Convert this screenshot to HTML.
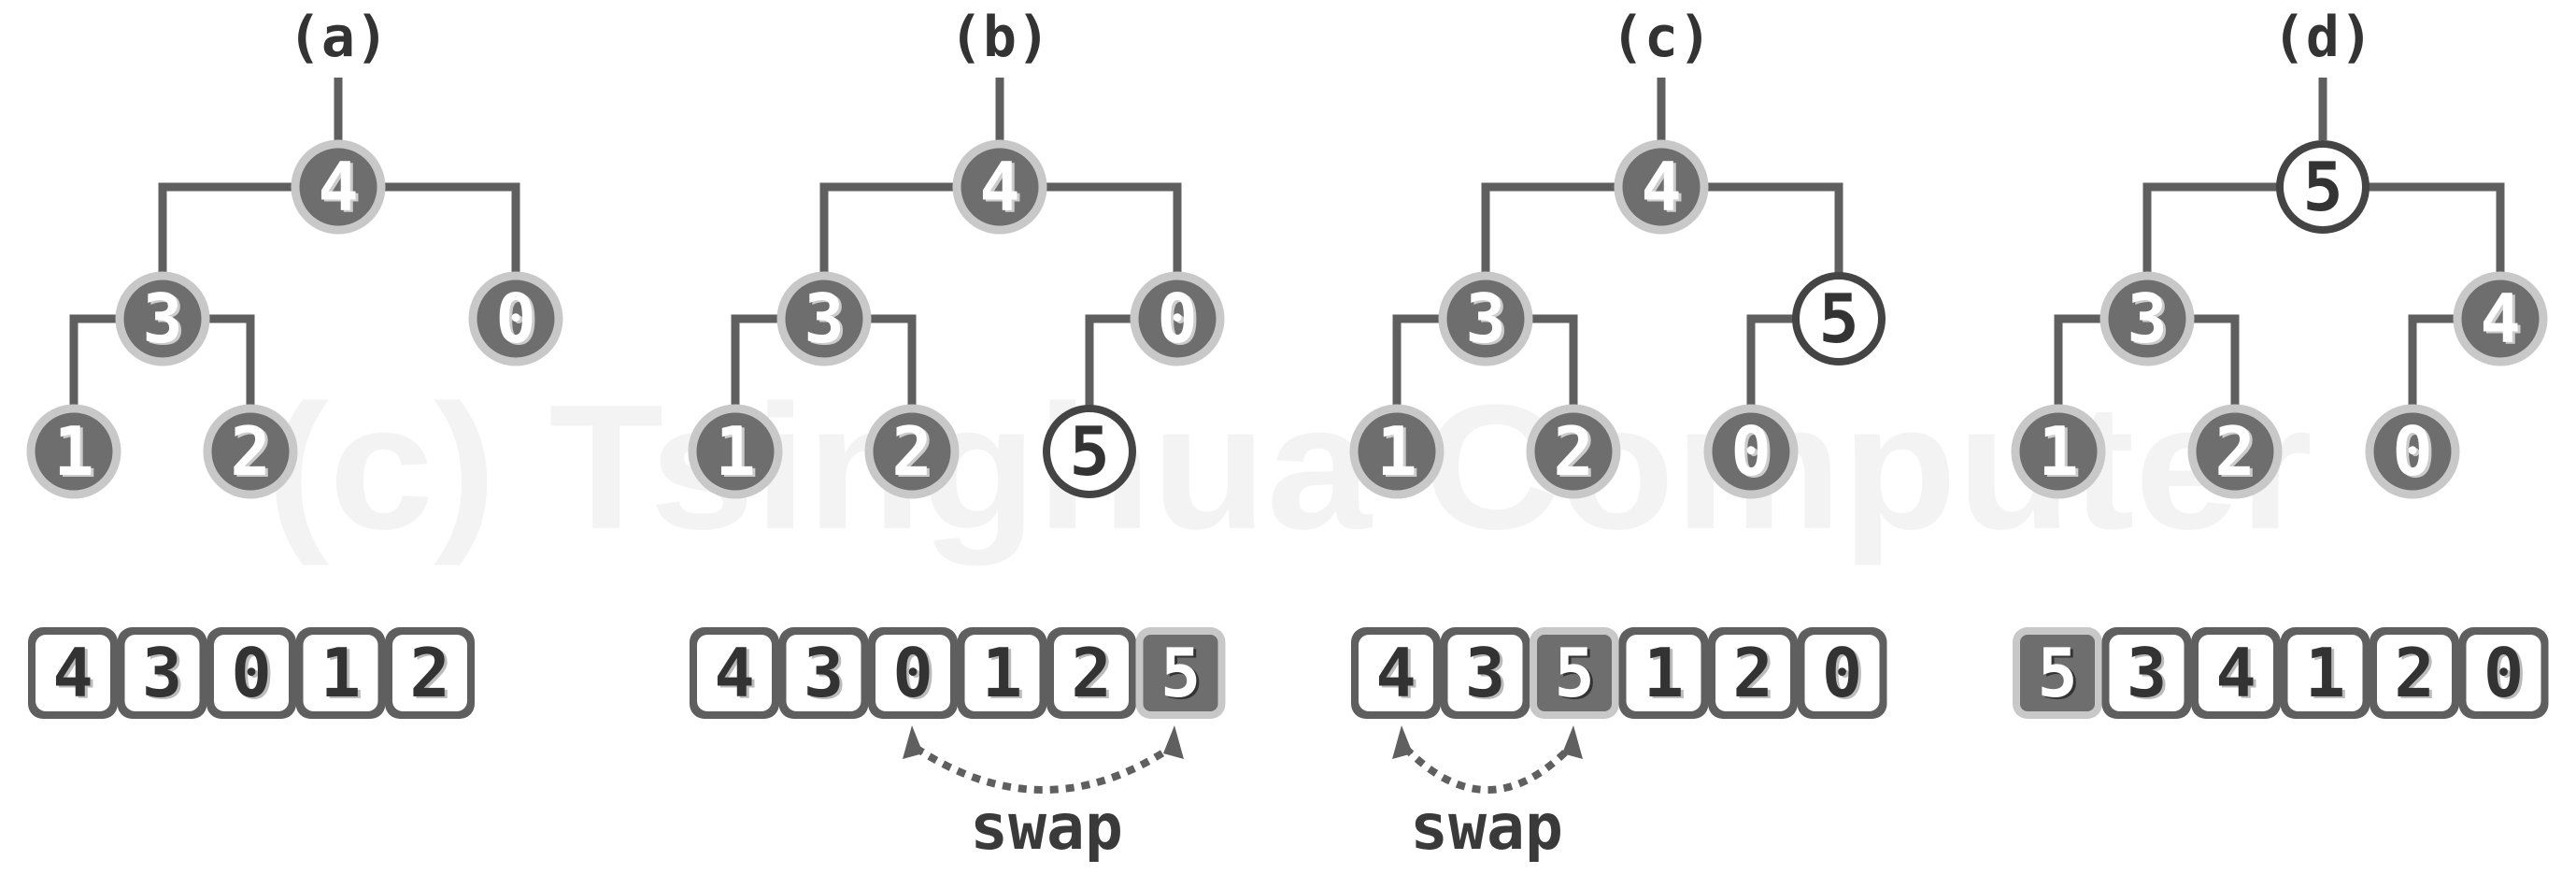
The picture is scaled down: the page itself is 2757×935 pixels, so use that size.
<!DOCTYPE html>
<html><head><meta charset="utf-8"><style>
html,body{margin:0;padding:0;background:#fff}
svg{display:block}
.lbl{font-family:"DejaVu Sans Mono","Liberation Mono",monospace;font-weight:bold;font-size:60px;fill:#333;text-anchor:middle}
.nd{font-family:"DejaVu Sans Mono","Liberation Mono",monospace;font-weight:bold;font-size:72px;text-anchor:middle}
.ar{font-family:"DejaVu Sans Mono","Liberation Mono",monospace;font-weight:bold;font-size:72px;text-anchor:middle}
.sw{font-family:"DejaVu Sans Mono","Liberation Mono",monospace;font-weight:bold;font-size:68px;fill:#3a3a3a;text-anchor:middle}
.ln{stroke:#5f5f5f;stroke-width:9;fill:none}
.dn{fill:#6e6e6e;stroke:#c8c8c8;stroke-width:9}
.wn{fill:#fff;stroke:#444;stroke-width:8}
.co{fill:#5f5f5f}
.ci{fill:#fff}
.ho{fill:#c8c8c8}
.hi{fill:#6e6e6e}
.dash{stroke:#5f5f5f;stroke-width:8;fill:none;stroke-dasharray:9 8}
</style></head><body>
<svg width="2757" height="935" viewBox="0 0 2757 935" xmlns="http://www.w3.org/2000/svg">
<text x="1380" y="565" font-family="Liberation Sans,sans-serif" font-weight="bold" font-size="190" fill="#f3f3f3" text-anchor="middle" textLength="2190" lengthAdjust="spacingAndGlyphs">(c) Tsinghua Computer</text>

<!-- Panel a -->
<g transform="translate(362,0)">
<text class="lbl" x="0" y="60">(a)</text>
<path class="ln" d="M0 83V150"/>
<path class="ln" d="M-188 341V200H190V341"/>
<path class="ln" d="M-283 483V341H-94V483"/>
<circle class="dn" cx="0" cy="200" r="46"/><text class="nd" x="3" y="227" fill="#ccc">4</text><text class="nd" x="0" y="225" fill="#fff">4</text>
<circle class="dn" cx="-188" cy="341" r="46"/><text class="nd" x="-185" y="368" fill="#ccc">3</text><text class="nd" x="-188" y="366" fill="#fff">3</text>
<circle class="dn" cx="190" cy="341" r="46"/><text class="nd" x="193" y="368" fill="#ccc">0</text><text class="nd" x="190" y="366" fill="#fff">0</text>
<circle class="dn" cx="-283" cy="483" r="46"/><text class="nd" x="-280" y="510" fill="#ccc">1</text><text class="nd" x="-283" y="508" fill="#fff">1</text>
<circle class="dn" cx="-94" cy="483" r="46"/><text class="nd" x="-91" y="510" fill="#ccc">2</text><text class="nd" x="-94" y="508" fill="#fff">2</text>
<g transform="translate(-332,671)">
<rect class="co" x="0" y="0" width="96" height="98" rx="16"/><rect class="ci" x="8" y="8" width="80" height="82" rx="11"/><text class="ar" x="51" y="76" fill="#bbb">4</text><text class="ar" x="48" y="74" fill="#333">4</text>
<rect class="co" x="95.5" y="0" width="96" height="98" rx="16"/><rect class="ci" x="103.5" y="8" width="80" height="82" rx="11"/><text class="ar" x="146.5" y="76" fill="#bbb">3</text><text class="ar" x="143.5" y="74" fill="#333">3</text>
<rect class="co" x="191" y="0" width="96" height="98" rx="16"/><rect class="ci" x="199" y="8" width="80" height="82" rx="11"/><text class="ar" x="242" y="76" fill="#bbb">0</text><text class="ar" x="239" y="74" fill="#333">0</text>
<rect class="co" x="286.5" y="0" width="96" height="98" rx="16"/><rect class="ci" x="294.5" y="8" width="80" height="82" rx="11"/><text class="ar" x="337.5" y="76" fill="#bbb">1</text><text class="ar" x="334.5" y="74" fill="#333">1</text>
<rect class="co" x="382" y="0" width="96" height="98" rx="16"/><rect class="ci" x="390" y="8" width="80" height="82" rx="11"/><text class="ar" x="433" y="76" fill="#bbb">2</text><text class="ar" x="430" y="74" fill="#333">2</text>
</g>
</g>

<!-- Panel b -->
<g transform="translate(1070,0)">
<text class="lbl" x="0" y="60">(b)</text>
<path class="ln" d="M0 83V150"/>
<path class="ln" d="M-188 341V200H190V341"/>
<path class="ln" d="M-283 483V341H-94V483"/>
<path class="ln" d="M96 483V341H190"/>
<circle class="dn" cx="0" cy="200" r="46"/><text class="nd" x="3" y="227" fill="#ccc">4</text><text class="nd" x="0" y="225" fill="#fff">4</text>
<circle class="dn" cx="-188" cy="341" r="46"/><text class="nd" x="-185" y="368" fill="#ccc">3</text><text class="nd" x="-188" y="366" fill="#fff">3</text>
<circle class="dn" cx="190" cy="341" r="46"/><text class="nd" x="193" y="368" fill="#ccc">0</text><text class="nd" x="190" y="366" fill="#fff">0</text>
<circle class="dn" cx="-283" cy="483" r="46"/><text class="nd" x="-280" y="510" fill="#ccc">1</text><text class="nd" x="-283" y="508" fill="#fff">1</text>
<circle class="dn" cx="-94" cy="483" r="46"/><text class="nd" x="-91" y="510" fill="#ccc">2</text><text class="nd" x="-94" y="508" fill="#fff">2</text>
<circle class="wn" cx="96" cy="483" r="46"/><text class="nd" x="96" y="508" fill="#333">5</text>
<g transform="translate(-332,671)">
<rect class="co" x="0" y="0" width="96" height="98" rx="16"/><rect class="ci" x="8" y="8" width="80" height="82" rx="11"/><text class="ar" x="51" y="76" fill="#bbb">4</text><text class="ar" x="48" y="74" fill="#333">4</text>
<rect class="co" x="95.5" y="0" width="96" height="98" rx="16"/><rect class="ci" x="103.5" y="8" width="80" height="82" rx="11"/><text class="ar" x="146.5" y="76" fill="#bbb">3</text><text class="ar" x="143.5" y="74" fill="#333">3</text>
<rect class="co" x="191" y="0" width="96" height="98" rx="16"/><rect class="ci" x="199" y="8" width="80" height="82" rx="11"/><text class="ar" x="242" y="76" fill="#bbb">0</text><text class="ar" x="239" y="74" fill="#333">0</text>
<rect class="co" x="286.5" y="0" width="96" height="98" rx="16"/><rect class="ci" x="294.5" y="8" width="80" height="82" rx="11"/><text class="ar" x="337.5" y="76" fill="#bbb">1</text><text class="ar" x="334.5" y="74" fill="#333">1</text>
<rect class="co" x="382" y="0" width="96" height="98" rx="16"/><rect class="ci" x="390" y="8" width="80" height="82" rx="11"/><text class="ar" x="433" y="76" fill="#bbb">2</text><text class="ar" x="430" y="74" fill="#333">2</text>
<rect class="ho" x="477.5" y="0" width="96" height="98" rx="16"/><rect class="hi" x="485.5" y="8" width="80" height="82" rx="8"/><text class="ar" x="528.5" y="76" fill="#333">5</text><text class="ar" x="525.5" y="74" fill="#fff">5</text>
</g>
<path class="dash" d="M-90 800Q47 890 183 800"/>
<polygon points="-94,776 -104,812 -82,806" fill="#5f5f5f"/>
<polygon points="187,776 175,806 197,812" fill="#5f5f5f"/>
<text class="sw" x="50" y="908">swap</text>
</g>

<!-- Panel c -->
<g transform="translate(1778,0)">
<text class="lbl" x="0" y="60">(c)</text>
<path class="ln" d="M0 83V150"/>
<path class="ln" d="M-188 341V200H190V341"/>
<path class="ln" d="M-283 483V341H-94V483"/>
<path class="ln" d="M96 483V341H190"/>
<circle class="dn" cx="0" cy="200" r="46"/><text class="nd" x="3" y="227" fill="#ccc">4</text><text class="nd" x="0" y="225" fill="#fff">4</text>
<circle class="dn" cx="-188" cy="341" r="46"/><text class="nd" x="-185" y="368" fill="#ccc">3</text><text class="nd" x="-188" y="366" fill="#fff">3</text>
<circle class="wn" cx="190" cy="341" r="46"/><text class="nd" x="190" y="366" fill="#333">5</text>
<circle class="dn" cx="-283" cy="483" r="46"/><text class="nd" x="-280" y="510" fill="#ccc">1</text><text class="nd" x="-283" y="508" fill="#fff">1</text>
<circle class="dn" cx="-94" cy="483" r="46"/><text class="nd" x="-91" y="510" fill="#ccc">2</text><text class="nd" x="-94" y="508" fill="#fff">2</text>
<circle class="dn" cx="96" cy="483" r="46"/><text class="nd" x="99" y="510" fill="#ccc">0</text><text class="nd" x="96" y="508" fill="#fff">0</text>
<g transform="translate(-332,671)">
<rect class="co" x="0" y="0" width="96" height="98" rx="16"/><rect class="ci" x="8" y="8" width="80" height="82" rx="11"/><text class="ar" x="51" y="76" fill="#bbb">4</text><text class="ar" x="48" y="74" fill="#333">4</text>
<rect class="co" x="95.5" y="0" width="96" height="98" rx="16"/><rect class="ci" x="103.5" y="8" width="80" height="82" rx="11"/><text class="ar" x="146.5" y="76" fill="#bbb">3</text><text class="ar" x="143.5" y="74" fill="#333">3</text>
<rect class="ho" x="191" y="0" width="96" height="98" rx="16"/><rect class="hi" x="199" y="8" width="80" height="82" rx="8"/><text class="ar" x="242" y="76" fill="#333">5</text><text class="ar" x="239" y="74" fill="#fff">5</text>
<rect class="co" x="286.5" y="0" width="96" height="98" rx="16"/><rect class="ci" x="294.5" y="8" width="80" height="82" rx="11"/><text class="ar" x="337.5" y="76" fill="#bbb">1</text><text class="ar" x="334.5" y="74" fill="#333">1</text>
<rect class="co" x="382" y="0" width="96" height="98" rx="16"/><rect class="ci" x="390" y="8" width="80" height="82" rx="11"/><text class="ar" x="433" y="76" fill="#bbb">2</text><text class="ar" x="430" y="74" fill="#333">2</text>
<rect class="co" x="477.5" y="0" width="96" height="98" rx="16"/><rect class="ci" x="485.5" y="8" width="80" height="82" rx="11"/><text class="ar" x="528.5" y="76" fill="#bbb">0</text><text class="ar" x="525.5" y="74" fill="#333">0</text>
</g>
<path class="dash" d="M-274 800Q-186 890 -98 800"/>
<polygon points="-278,776 -288,812 -266,806" fill="#5f5f5f"/>
<polygon points="-94,776 -106,806 -84,812" fill="#5f5f5f"/>
<text class="sw" x="-187" y="908">swap</text>
</g>

<!-- Panel d -->
<g transform="translate(2486,0)">
<text class="lbl" x="0" y="60">(d)</text>
<path class="ln" d="M0 83V150"/>
<path class="ln" d="M-188 341V200H190V341"/>
<path class="ln" d="M-283 483V341H-94V483"/>
<path class="ln" d="M96 483V341H190"/>
<circle class="wn" cx="0" cy="200" r="46"/><text class="nd" x="0" y="225" fill="#333">5</text>
<circle class="dn" cx="-188" cy="341" r="46"/><text class="nd" x="-185" y="368" fill="#ccc">3</text><text class="nd" x="-188" y="366" fill="#fff">3</text>
<circle class="dn" cx="190" cy="341" r="46"/><text class="nd" x="193" y="368" fill="#ccc">4</text><text class="nd" x="190" y="366" fill="#fff">4</text>
<circle class="dn" cx="-283" cy="483" r="46"/><text class="nd" x="-280" y="510" fill="#ccc">1</text><text class="nd" x="-283" y="508" fill="#fff">1</text>
<circle class="dn" cx="-94" cy="483" r="46"/><text class="nd" x="-91" y="510" fill="#ccc">2</text><text class="nd" x="-94" y="508" fill="#fff">2</text>
<circle class="dn" cx="96" cy="483" r="46"/><text class="nd" x="99" y="510" fill="#ccc">0</text><text class="nd" x="96" y="508" fill="#fff">0</text>
<g transform="translate(-332,671)">
<rect class="ho" x="0" y="0" width="96" height="98" rx="16"/><rect class="hi" x="8" y="8" width="80" height="82" rx="8"/><text class="ar" x="51" y="76" fill="#333">5</text><text class="ar" x="48" y="74" fill="#fff">5</text>
<rect class="co" x="95.5" y="0" width="96" height="98" rx="16"/><rect class="ci" x="103.5" y="8" width="80" height="82" rx="11"/><text class="ar" x="146.5" y="76" fill="#bbb">3</text><text class="ar" x="143.5" y="74" fill="#333">3</text>
<rect class="co" x="191" y="0" width="96" height="98" rx="16"/><rect class="ci" x="199" y="8" width="80" height="82" rx="11"/><text class="ar" x="242" y="76" fill="#bbb">4</text><text class="ar" x="239" y="74" fill="#333">4</text>
<rect class="co" x="286.5" y="0" width="96" height="98" rx="16"/><rect class="ci" x="294.5" y="8" width="80" height="82" rx="11"/><text class="ar" x="337.5" y="76" fill="#bbb">1</text><text class="ar" x="334.5" y="74" fill="#333">1</text>
<rect class="co" x="382" y="0" width="96" height="98" rx="16"/><rect class="ci" x="390" y="8" width="80" height="82" rx="11"/><text class="ar" x="433" y="76" fill="#bbb">2</text><text class="ar" x="430" y="74" fill="#333">2</text>
<rect class="co" x="477.5" y="0" width="96" height="98" rx="16"/><rect class="ci" x="485.5" y="8" width="80" height="82" rx="11"/><text class="ar" x="528.5" y="76" fill="#bbb">0</text><text class="ar" x="525.5" y="74" fill="#333">0</text>
</g>
</g>
</svg>
</body></html>
